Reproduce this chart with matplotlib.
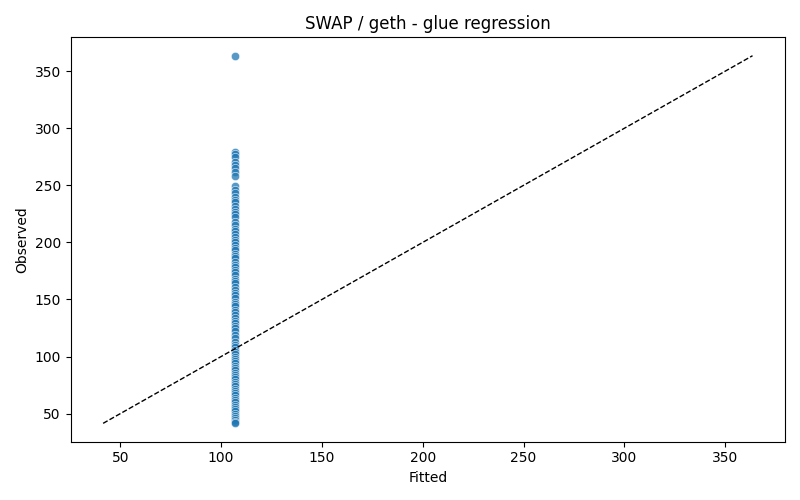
import numpy as np
import matplotlib.pyplot as plt
import seaborn as sns

observed = [363, 279, 277, 275, 270, 268, 265, 262, 258, 249, 246, 243, 240, 237,
            235, 232, 229, 227, 225, 222, 218, 215, 212, 210, 207, 205, 202, 200,
            198, 195, 193, 190, 188, 186, 183, 180, 178, 176, 174, 171, 168, 166,
            164, 161, 158, 156, 154, 151, 148, 146, 144, 141, 139, 136, 134, 131,
            129, 127, 125, 122, 119, 116, 113, 110, 108, 106, 104, 102, 100, 98,
            96, 94, 92, 90, 88, 86, 84, 82, 80, 78, 76, 74, 72, 70, 68, 66, 64,
            62, 60, 58, 56, 54, 52, 50, 48, 46, 44, 43, 42]
fitted_value = 107.0
fitted = [fitted_value] * len(observed)

fig, ax = plt.subplots(figsize=(8, 5), dpi=100)
sns.scatterplot(x=fitted, y=observed, alpha=0.75, ax=ax)

lo = min(min(observed), fitted_value) - 0.5
hi = max(max(observed), fitted_value) + 0.5
ax.plot([lo, hi], [lo, hi], color='black', linestyle='--', linewidth=1)

ax.set_title("SWAP / geth - glue regression")
ax.set_xlabel("Fitted")
ax.set_ylabel("Observed")
plt.tight_layout()
plt.savefig("out.png")
